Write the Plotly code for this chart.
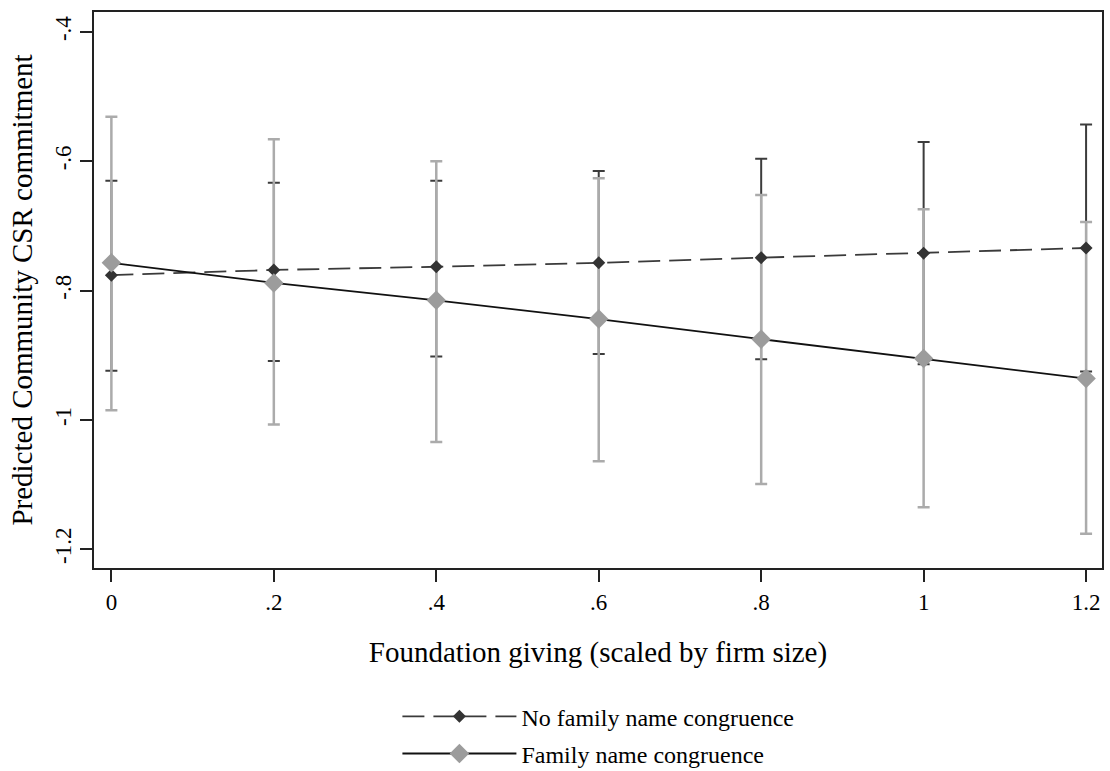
import plotly.graph_objects as go

# ---- data ----
giving = [0, 0.2, 0.4, 0.6, 0.8, 1.0, 1.2]

no_family_mean = [-0.776, -0.768, -0.763, -0.757, -0.749, -0.742, -0.734]
no_family_upper = [-0.630, -0.633, -0.630, -0.615, -0.596, -0.570, -0.543]
no_family_lower = [-0.924, -0.909, -0.902, -0.898, -0.906, -0.914, -0.925]

family_mean = [-0.757, -0.788, -0.815, -0.844, -0.875, -0.905, -0.936]
family_upper = [-0.531, -0.566, -0.600, -0.626, -0.652, -0.674, -0.694]
family_lower = [-0.985, -1.007, -1.034, -1.064, -1.099, -1.135, -1.176]

x_tickvals = [0, 0.2, 0.4, 0.6, 0.8, 1.0, 1.2]
x_ticktext = ["0", ".2", ".4", ".6", ".8", "1", "1.2"]
y_tickvals = [-1.2, -1.0, -0.8, -0.6, -0.4]
y_ticktext = ["-1.2", "-1", "-.8", "-.6", "-.4"]

series_names = ["No family name congruence", "Family name congruence"]
x_title = "Foundation giving (scaled by firm size)"
y_title = "Predicted Community CSR commitment"

# ---- styling ----
FONT = "Liberation Serif"
DARK = "#333333"
DARK_BAR = "#3c3c3c"
GRAY = "#9c9c9c"
GRAY_BAR = "#ababab"


def err(mean, upper, lower):
    plus = [u - m for u, m in zip(upper, mean)]
    minus = [m - l for m, l in zip(mean, lower)]
    return plus, minus


nf_plus, nf_minus = err(no_family_mean, no_family_upper, no_family_lower)
f_plus, f_minus = err(family_mean, family_upper, family_lower)

fig = go.Figure()

# confidence intervals (dark first, gray on top)
fig.add_trace(go.Scatter(
    x=giving, y=no_family_mean, mode="markers",
    marker=dict(size=1, color="rgba(0,0,0,0)"),
    error_y=dict(type="data", symmetric=False, array=nf_plus, arrayminus=nf_minus,
                 color=DARK_BAR, thickness=2, width=6),
    showlegend=False, hoverinfo="skip"))
fig.add_trace(go.Scatter(
    x=giving, y=family_mean, mode="markers",
    marker=dict(size=1, color="rgba(0,0,0,0)"),
    error_y=dict(type="data", symmetric=False, array=f_plus, arrayminus=f_minus,
                 color=GRAY_BAR, thickness=2.5, width=6),
    showlegend=False, hoverinfo="skip"))

# point estimates with connecting lines
fig.add_trace(go.Scatter(
    x=giving, y=no_family_mean, mode="lines+markers", name=series_names[0],
    line=dict(color="#3a3a3a", width=1.8, dash="22px,9px"),
    marker=dict(symbol="diamond", size=10, color=DARK),
    legendgroup="a"))
fig.add_trace(go.Scatter(
    x=giving, y=family_mean, mode="lines+markers", name=series_names[1],
    line=dict(color="#111111", width=1.8),
    marker=dict(symbol="diamond", size=15, color=GRAY),
    legendgroup="b"))

axis_common = dict(
    showline=True, mirror=True, linecolor="#222222", linewidth=2,
    ticks="outside", ticklen=12, tickwidth=2, tickcolor="#222222",
    showgrid=False, zeroline=False,
    tickfont=dict(family=FONT, size=23, color="black"),
)

fig.update_xaxes(
    **axis_common, range=[-0.0214, 1.2196],
    tickvals=x_tickvals, ticktext=x_ticktext,
    title=dict(text=x_title, font=dict(family=FONT, size=29, color="black"), standoff=28),
)
fig.update_yaxes(
    **axis_common, range=[-1.229, -0.369],
    tickvals=y_tickvals, ticktext=y_ticktext, tickangle=-90,
    title=dict(text=y_title, font=dict(family=FONT, size=29, color="black"), standoff=10),
)

fig.update_layout(
    width=1110, height=771,
    margin=dict(l=94, r=8, t=12, b=203, autoexpand=False),
    paper_bgcolor="white", plot_bgcolor="white",
    font=dict(family=FONT, color="black"),
    legend=dict(
        x=0.301, y=-0.227, xanchor="left", yanchor="top",
        font=dict(family=FONT, size=24, color="black"),
        itemwidth=114, tracegroupgap=3, traceorder="grouped",
        bgcolor="rgba(0,0,0,0)", borderwidth=0,
    ),
)

fig.write_html(
    "out.html",
    config={"displayModeBar": False},
    post_script="document.body.style.margin='0';document.body.style.overflow='hidden';",
)
